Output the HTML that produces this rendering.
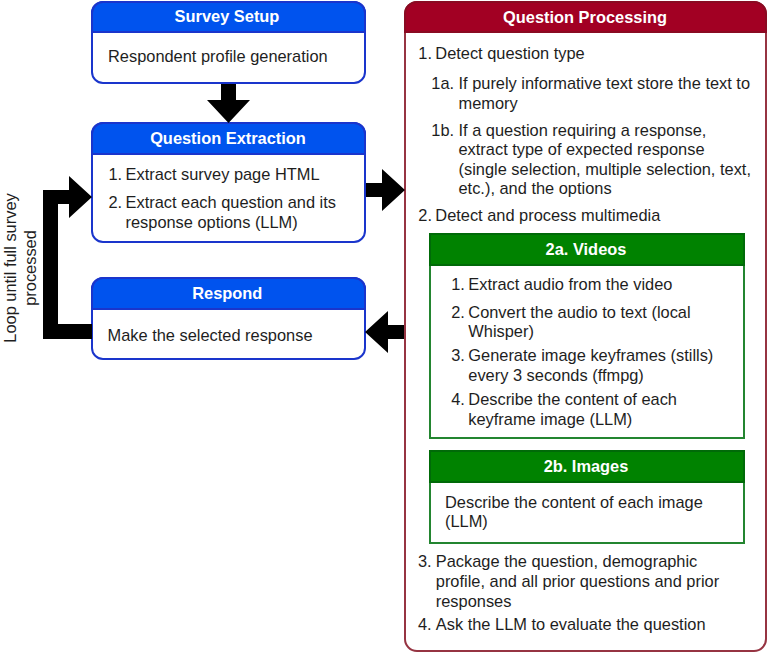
<!DOCTYPE html>
<html><head><meta charset="utf-8"><style>
html,body{margin:0;padding:0;background:#fff;width:768px;height:654px;overflow:hidden}
body{position:relative;font-family:"Liberation Sans",sans-serif;font-size:16.4px;line-height:20px;white-space:nowrap}
</style></head><body>
<div style="position:absolute;left:91px;top:1px;width:275px;height:83px;box-sizing:border-box;border:2px solid #1a35cc;border-radius:12px;background:#fff"></div>
<div style="position:absolute;left:91px;top:1px;width:275px;height:32px;box-sizing:border-box;border:2px solid #1a35cc;border-radius:12px 12px 0 0;background:#0053ee"></div>
<div style="position:absolute;left:91px;top:122px;width:275px;height:121px;box-sizing:border-box;border:2px solid #1a35cc;border-radius:12px;background:#fff"></div>
<div style="position:absolute;left:91px;top:122px;width:275px;height:33px;box-sizing:border-box;border:2px solid #1a35cc;border-radius:12px 12px 0 0;background:#0053ee"></div>
<div style="position:absolute;left:91px;top:277px;width:275px;height:83px;box-sizing:border-box;border:2px solid #1a35cc;border-radius:12px;background:#fff"></div>
<div style="position:absolute;left:91px;top:277px;width:275px;height:32.5px;box-sizing:border-box;border:2px solid #1a35cc;border-radius:12px 12px 0 0;background:#0053ee"></div>
<div style="position:absolute;left:404px;top:1px;width:363px;height:651px;box-sizing:border-box;border:2px solid #963442;border-radius:13px;background:#fff"></div>
<div style="position:absolute;left:404px;top:1px;width:363px;height:32px;box-sizing:border-box;border:2px solid #8a0a22;border-radius:13px 13px 0 0;background:#a20023"></div>
<div style="position:absolute;left:429px;top:233px;width:315.5px;height:205.5px;box-sizing:border-box;border:2px solid #238530;border-radius:0px;background:#fff"></div>
<div style="position:absolute;left:429px;top:233px;width:315.5px;height:33px;box-sizing:border-box;border:2px solid #006a08;border-radius:0px 0px 0 0;background:#008200"></div>
<div style="position:absolute;left:429px;top:450px;width:315.5px;height:94px;box-sizing:border-box;border:2px solid #238530;border-radius:0px;background:#fff"></div>
<div style="position:absolute;left:429px;top:450px;width:315.5px;height:32.5px;box-sizing:border-box;border:2px solid #006a08;border-radius:0px 0px 0 0;background:#008200"></div>
<div style="position:absolute;left:27px;width:400px;text-align:center;top:6px;font-weight:bold;color:#ffffff">Survey Setup</div>
<div style="position:absolute;left:28px;width:400px;text-align:center;top:128px;font-weight:bold;color:#ffffff">Question Extraction</div>
<div style="position:absolute;left:27.30000000000001px;width:400px;text-align:center;top:282.5px;font-weight:bold;color:#ffffff">Respond</div>
<div style="position:absolute;left:385px;width:400px;text-align:center;top:7px;font-weight:bold;color:#ffffff">Question Processing</div>
<div style="position:absolute;left:386px;width:400px;text-align:center;top:239px;font-weight:bold;color:#ffffff">2a. Videos</div>
<div style="position:absolute;left:386px;width:400px;text-align:center;top:456px;font-weight:bold;color:#ffffff">2b. Images</div>
<div style="position:absolute;left:108px;top:46px;font-weight:normal;color:#1e1e1e">Respondent profile generation</div>
<div style="position:absolute;left:108.5px;top:164px;font-weight:normal;color:#1e1e1e">1.</div>
<div style="position:absolute;left:125.5px;top:164px;font-weight:normal;color:#1e1e1e">Extract survey page HTML</div>
<div style="position:absolute;left:108.5px;top:192px;font-weight:normal;color:#1e1e1e">2.</div>
<div style="position:absolute;left:125.5px;top:192px;font-weight:normal;color:#1e1e1e">Extract each question and its</div>
<div style="position:absolute;left:125.5px;top:212px;font-weight:normal;color:#1e1e1e">response options (LLM)</div>
<div style="position:absolute;left:107.5px;top:325px;font-weight:normal;color:#1e1e1e">Make the selected response</div>
<div style="position:absolute;left:418.3px;top:42.5px;font-weight:normal;color:#1e1e1e">1.</div>
<div style="position:absolute;left:435.3px;top:42.5px;font-weight:normal;color:#1e1e1e">Detect question type</div>
<div style="position:absolute;left:431.3px;top:73.3px;font-weight:normal;color:#1e1e1e">1a.</div>
<div style="position:absolute;left:458.5px;top:73.3px;font-weight:normal;color:#1e1e1e">If purely informative text store the text to</div>
<div style="position:absolute;left:458.5px;top:93.2px;font-weight:normal;color:#1e1e1e">memory</div>
<div style="position:absolute;left:431.3px;top:119.80000000000001px;font-weight:normal;color:#1e1e1e">1b.</div>
<div style="position:absolute;left:458.5px;top:119.80000000000001px;font-weight:normal;color:#1e1e1e">If a question requiring a response,</div>
<div style="position:absolute;left:458.5px;top:139.3px;font-weight:normal;color:#1e1e1e">extract type of expected response</div>
<div style="position:absolute;left:458.5px;top:158.9px;font-weight:normal;color:#1e1e1e">(single selection, multiple selection, text,</div>
<div style="position:absolute;left:458.5px;top:178.4px;font-weight:normal;color:#1e1e1e">etc.), and the options</div>
<div style="position:absolute;left:418.3px;top:204.7px;font-weight:normal;color:#1e1e1e">2.</div>
<div style="position:absolute;left:435.3px;top:204.7px;font-weight:normal;color:#1e1e1e">Detect and process multimedia</div>
<div style="position:absolute;left:451.2px;top:274.1px;font-weight:normal;color:#1e1e1e">1.</div>
<div style="position:absolute;left:468.3px;top:274.1px;font-weight:normal;color:#1e1e1e">Extract audio from the video</div>
<div style="position:absolute;left:451.2px;top:301.9px;font-weight:normal;color:#1e1e1e">2.</div>
<div style="position:absolute;left:468.3px;top:301.9px;font-weight:normal;color:#1e1e1e">Convert the audio to text (local</div>
<div style="position:absolute;left:468.3px;top:321.4px;font-weight:normal;color:#1e1e1e">Whisper)</div>
<div style="position:absolute;left:451.2px;top:345px;font-weight:normal;color:#1e1e1e">3.</div>
<div style="position:absolute;left:468.3px;top:345px;font-weight:normal;color:#1e1e1e">Generate image keyframes (stills)</div>
<div style="position:absolute;left:468.3px;top:364.9px;font-weight:normal;color:#1e1e1e">every 3 seconds (ffmpg)</div>
<div style="position:absolute;left:451.2px;top:389.3px;font-weight:normal;color:#1e1e1e">4.</div>
<div style="position:absolute;left:468.3px;top:389.3px;font-weight:normal;color:#1e1e1e">Describe the content of each</div>
<div style="position:absolute;left:468.3px;top:408.6px;font-weight:normal;color:#1e1e1e">keyframe image (LLM)</div>
<div style="position:absolute;left:445px;top:491.5px;font-weight:normal;color:#1e1e1e">Describe the content of each image</div>
<div style="position:absolute;left:445px;top:511px;font-weight:normal;color:#1e1e1e">(LLM)</div>
<div style="position:absolute;left:418px;top:551.2px;font-weight:normal;color:#1e1e1e">3.</div>
<div style="position:absolute;left:435.8px;top:551.2px;font-weight:normal;color:#1e1e1e">Package the question, demographic</div>
<div style="position:absolute;left:435.8px;top:570.5px;font-weight:normal;color:#1e1e1e">profile, and all prior questions and prior</div>
<div style="position:absolute;left:435.8px;top:590.5px;font-weight:normal;color:#1e1e1e">responses</div>
<div style="position:absolute;left:418px;top:613.6px;font-weight:normal;color:#1e1e1e">4.</div>
<div style="position:absolute;left:435.8px;top:613.6px;font-weight:normal;color:#1e1e1e">Ask the LLM to evaluate the question</div>
<svg style="position:absolute;left:0;top:0" width="768" height="654">
<polygon fill="#000" points="221,84 236,84 236,100 250,100 228.5,123 207,100 221,100"/>
<polygon fill="#000" points="366,183 382,183 382,169 405,190 382,211 382,197 366,197"/>
<polygon fill="#000" points="404,325 388,325 388,311 365,332 388,353 388,339 404,339"/>
<polygon fill="#000" points="92,324 58,324 58,204 69,204 69,218 92,197 69,176 69,190 43,190 43,339 92,339"/>
</svg>
<div style="position:absolute;left:-103px;top:246px;width:250px;height:44px;transform:rotate(-90deg);transform-origin:50% 50%;text-align:center;font-size:16.4px;line-height:20px;color:#1e1e1e">Loop until full survey<br>processed</div>
</body></html>
